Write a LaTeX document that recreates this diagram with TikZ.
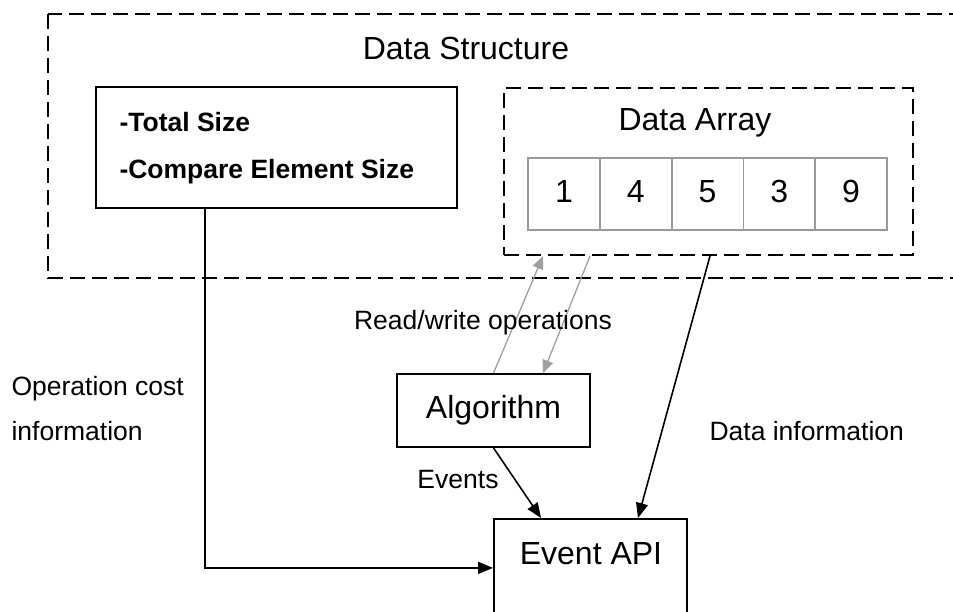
\documentclass[tikz,border=0pt]{standalone}
\usepackage{fontspec}
\setmainfont{Liberation Sans}
\usetikzlibrary{arrows.meta,calc}
\begin{document}
\begin{tikzpicture}[x=1pt,y=-1pt,
    big/.style={font=\fontsize{32}{38}\selectfont},
    small/.style={font=\fontsize{26.5}{45}\selectfont},
    bold/.style={font=\fontsize{26.5}{45}\selectfont\bfseries},
    box/.style={draw, line width=1.8pt, inner sep=0pt},
    dashbox/.style={draw, line width=2pt, dash pattern=on 15pt off 7pt, inner sep=0pt},
    cell/.style={draw=gray!80, line width=1.6pt, minimum size=72pt, inner sep=0pt,
        text height=18pt, text depth=0pt, big},
    arr/.style={line width=1.6pt, -{Triangle[length=15pt,width=12pt]}},
    rw/.style={draw=gray!75, line width=1.3pt, -{Triangle[length=13pt,width=11pt]}}]
    % Frame
    \clip (0,0) rectangle (953,612);

    % Data structure
    \draw[dashbox] (48,14) rectangle (990,278);
    \node[big, anchor=base] (dstitle) at (466,60) {Data Structure};

    % Size information
    \node[box, anchor=north west, minimum width=361pt, minimum height=121pt] (sizebox) at (95,86) {};
    \node[bold, anchor=base west] (total) at (116,132) {-Total Size};
    \node[bold, anchor=base west] (compare) at (116,179) {-Compare Element Size};

    % Data array
    \node[dashbox, anchor=north west, minimum width=409pt, minimum height=167pt] (array) at (503,87) {};
    \node[big, anchor=base] (arraytitle) at (695,131) {Data Array};
    \foreach \v [count=\i] in {1,4,5,3,9}
        \node[cell] (c\i) at ({492.1+71.8*\i},194) {\v};

    % Algorithm
    \node[box, big, minimum width=193pt, minimum height=73pt] (alg) at (493.5,410.5) {Algorithm};

    % Event API
    \node[box, anchor=north west, minimum width=193pt, minimum height=98pt] (api) at (493,518) {};
    \node[big, anchor=base] (apititle) at (591,564) {Event API};

    % Read/write
    \draw[rw] (alg.north) -- ($(array.south west)+(40,0)$);
    \draw[rw] ($(array.south west)+(87,0)$) -- ($(alg.north)+(49.5,0)$);
    \node[small, anchor=base] (rwlabel) at (483,329) {Read/write operations};

    % Events
    \draw[arr] (alg.south) -- ($(api.north west)+(48,0)$);
    \node[small, anchor=base] (eventslabel) at (458,488) {Events};

    % Data information
    \draw[arr] ($(array.south west)+(207,0)$) -- ($(api.north west)+(145,0)$);
    \node[small, anchor=base west] (datalabel) at (706,440) {Data information};

    % Operation cost
    \draw[arr] ($(sizebox.south west)+(110,0)$) |- (api.west);
    \node[small, anchor=base west] (costlabel) at (8,395) {Operation cost};
    \node[small, anchor=base west] (costlabel2) at (8,440) {information};
\end{tikzpicture}
\end{document}
